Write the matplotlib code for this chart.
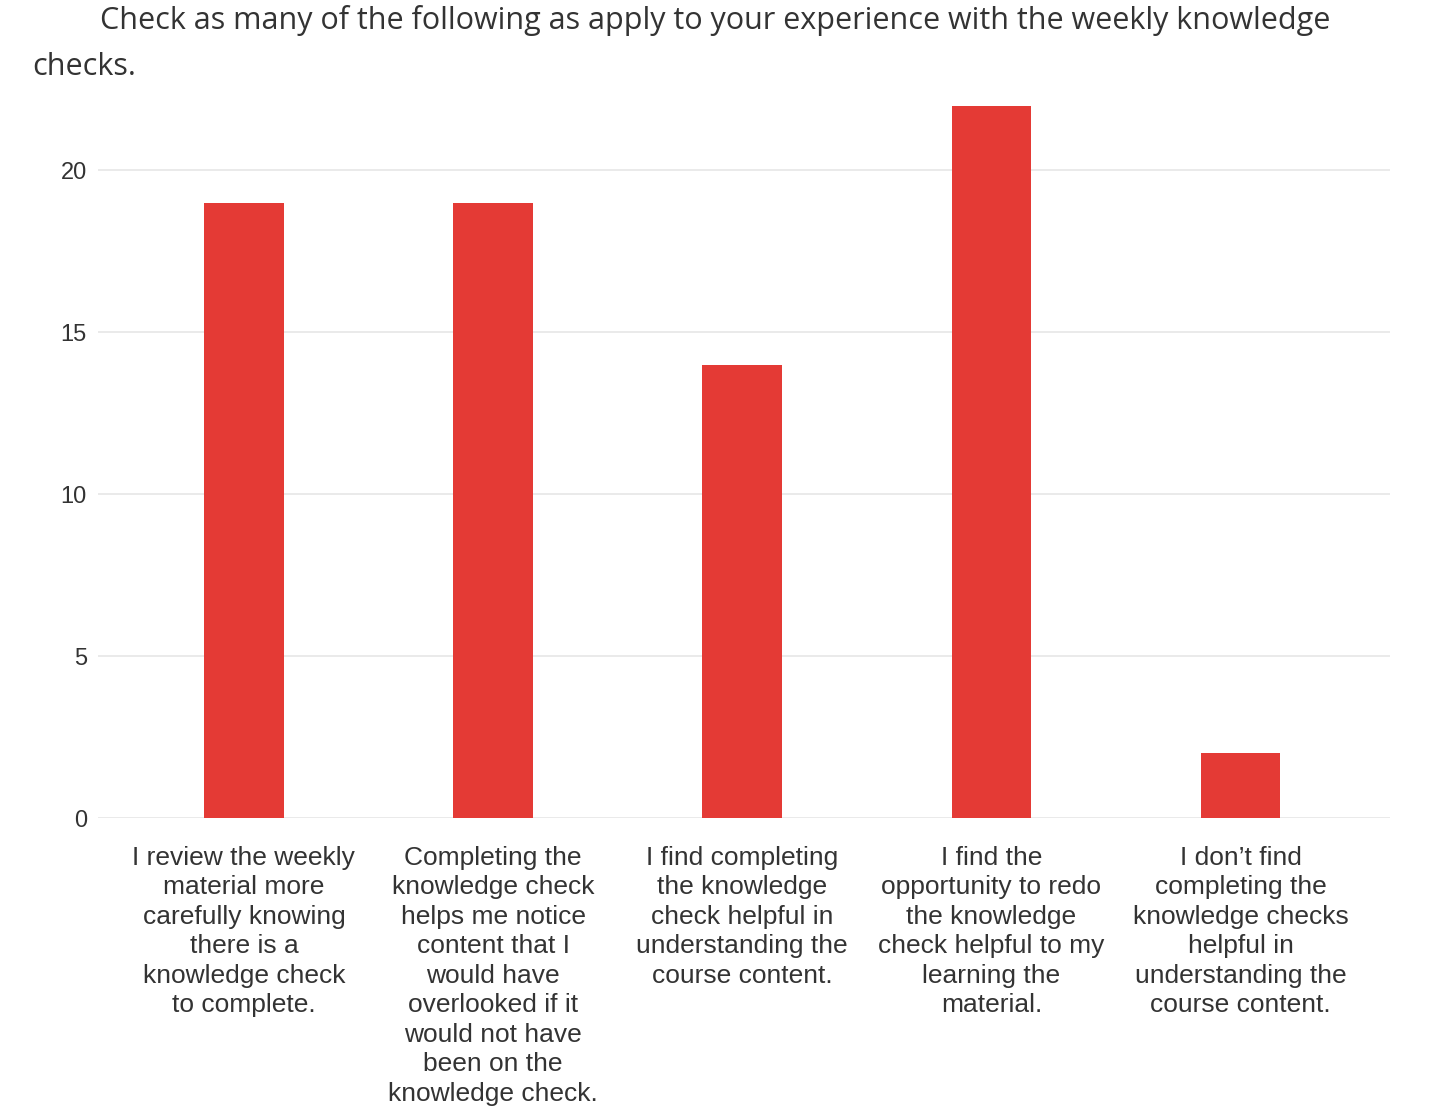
import matplotlib.pyplot as plt

# data
categories = [
    "I review the weekly\nmaterial more\ncarefully knowing\nthere is a\nknowledge check\nto complete.",
    "Completing the\nknowledge check\nhelps me notice\ncontent that I\nwould have\noverlooked if it\nwould not have\nbeen on the\nknowledge check.",
    "I find completing\nthe knowledge\ncheck helpful in\nunderstanding the\ncourse content.",
    "I find the\nopportunity to redo\nthe knowledge\ncheck helpful to my\nlearning the\nmaterial.",
    "I don\u2019t find\ncompleting the\nknowledge checks\nhelpful in\nunderstanding the\ncourse content.",
]
counts = [19, 19, 14, 22, 2]
yticks = [0, 5, 10, 15, 20]

bar_color = '#e43a35'
text_color = '#333333'

plt.rcParams['font.family'] = ['Liberation Sans', 'DejaVu Sans']

fig = plt.figure(figsize=(14.4, 11.14), dpi=100)
ax = fig.add_axes([0.068, 0.2657, 0.897, 0.654])

x = range(len(categories))
ax.bar(x, counts, width=0.32, color=bar_color, zorder=3)

ax.set_xlim(-0.586, 4.598)
ax.set_ylim(0, 22.5)
ax.set_yticks(yticks)
ax.set_xticks(list(x))
ax.set_xticklabels(categories, fontsize=19, color=text_color, linespacing=1.29,
                   ha='center', va='top')
ax.tick_params(axis='y', labelsize=17, labelcolor=text_color, length=0, pad=8)
ax.tick_params(axis='x', length=0, pad=20)
ax.grid(axis='y', color='#e6e6e6', linewidth=1.2, zorder=0)
for s in ax.spines.values():
    s.set_visible(False)

# title (two lines, first one indented)
fig.text(100 / 1440, 1 - 21 / 1114,
         "Check as many of the following as apply to your experience with the weekly knowledge",
         fontsize=22, color=text_color, family=['Open Sans', 'DejaVu Sans'], va='center')
fig.text(32 / 1440, 1 - 67 / 1114, "checks.",
         fontsize=22, color=text_color, family=['Open Sans', 'DejaVu Sans'], va='center')

plt.savefig('out.png', dpi=100)
